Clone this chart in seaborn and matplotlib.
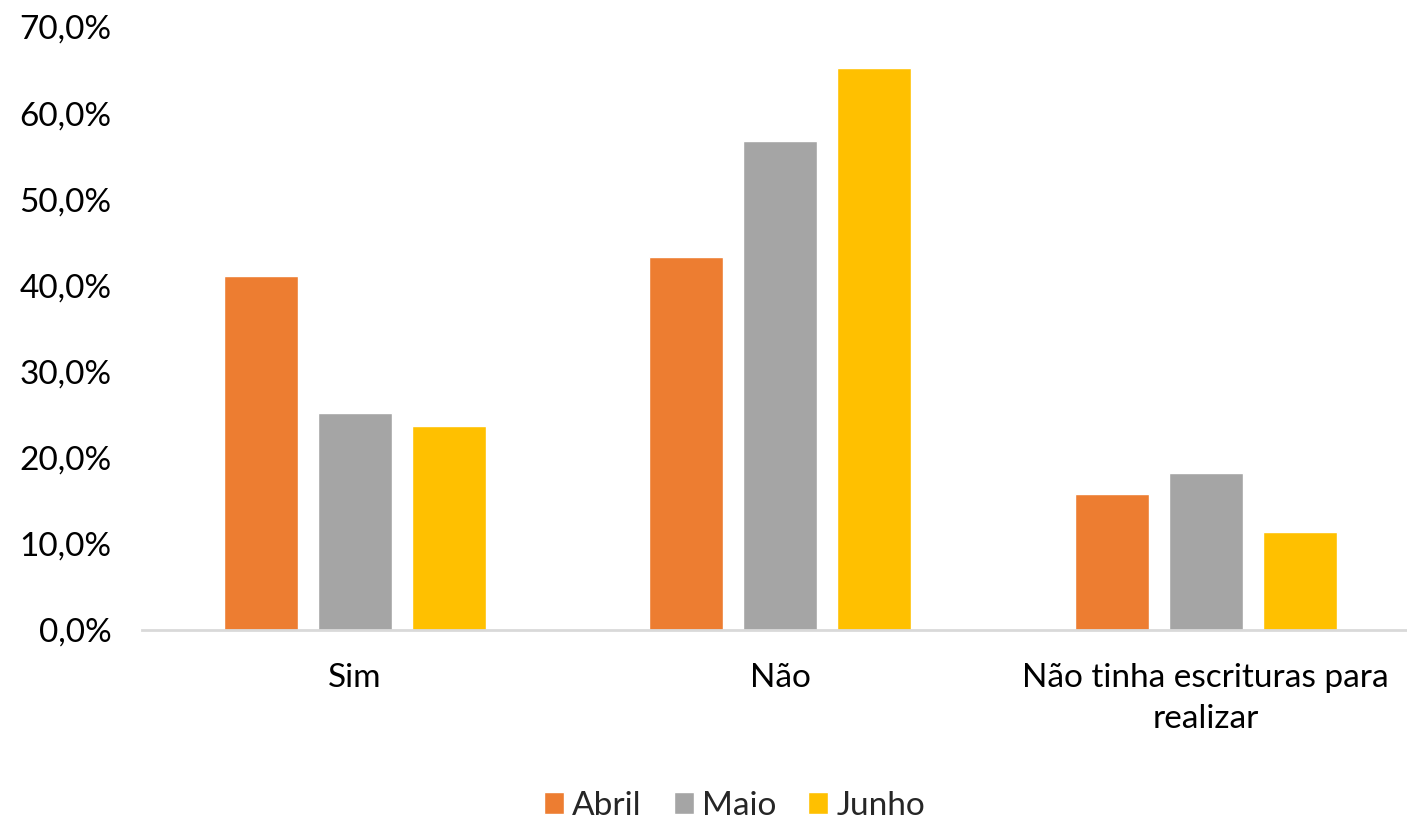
import matplotlib
matplotlib.use("Agg")
import matplotlib.pyplot as plt
import matplotlib.ticker as mticker
import pandas as pd
import seaborn as sns

# values (percent)
categories = ["Sim", "Não", "Não tinha escrituras para\nrealizar"]
months = ["Abril", "Maio", "Junho"]
abril = [41.1, 43.3, 15.8]
maio = [25.2, 56.8, 18.2]
junho = [23.7, 65.2, 11.4]
colors = ["#ED7D31", "#A5A5A5", "#FFC000"]

df = pd.DataFrame({
    "categoria": categories * 3,
    "mes": [m for m in months for _ in categories],
    "valor": abril + maio + junho,
})

sns.set_theme(style="white")
plt.rcParams["font.family"] = ["Lato", "DejaVu Sans"]

fig = plt.figure(figsize=(14.07, 8.18), dpi=100)
ax = fig.add_axes([142 / 1407, 188 / 818, 1265 / 1407, 603 / 818])

sns.barplot(data=df, x="categoria", y="valor", hue="mes", hue_order=months,
            palette=colors, width=0.663, gap=0.213, saturation=1,
            errorbar=None, ax=ax)

ax.set_xlim(-0.5, -0.5 + 1265 / 425.5)
ax.set_ylim(0, 70)
ax.yaxis.set_major_locator(mticker.MultipleLocator(10))
ax.yaxis.set_major_formatter(
    mticker.FuncFormatter(lambda v, _: f"{v:.1f}%".replace(".", ",")))
ax.set_xlabel("")
ax.set_ylabel("")
ax.tick_params(axis="both", length=0, labelsize=24, colors="black")
ax.tick_params(axis="x", pad=24)
ax.tick_params(axis="y", pad=22)
for lbl in ax.get_xticklabels():
    lbl.set_linespacing(1.45)

for side in ["top", "right", "left"]:
    ax.spines[side].set_visible(False)
ax.spines["bottom"].set_color("#D9D9D9")
ax.spines["bottom"].set_linewidth(2)

handles, labels = ax.get_legend_handles_labels()
ax.legend_.remove()
fig.legend(handles, labels, loc="lower center", ncol=3, frameon=False,
           fontsize=24, handlelength=0.6, handleheight=0.6,
           handletextpad=0.25, columnspacing=0.95,
           bbox_to_anchor=(0.522, -0.04))

fig.savefig("out.png", dpi=100)
